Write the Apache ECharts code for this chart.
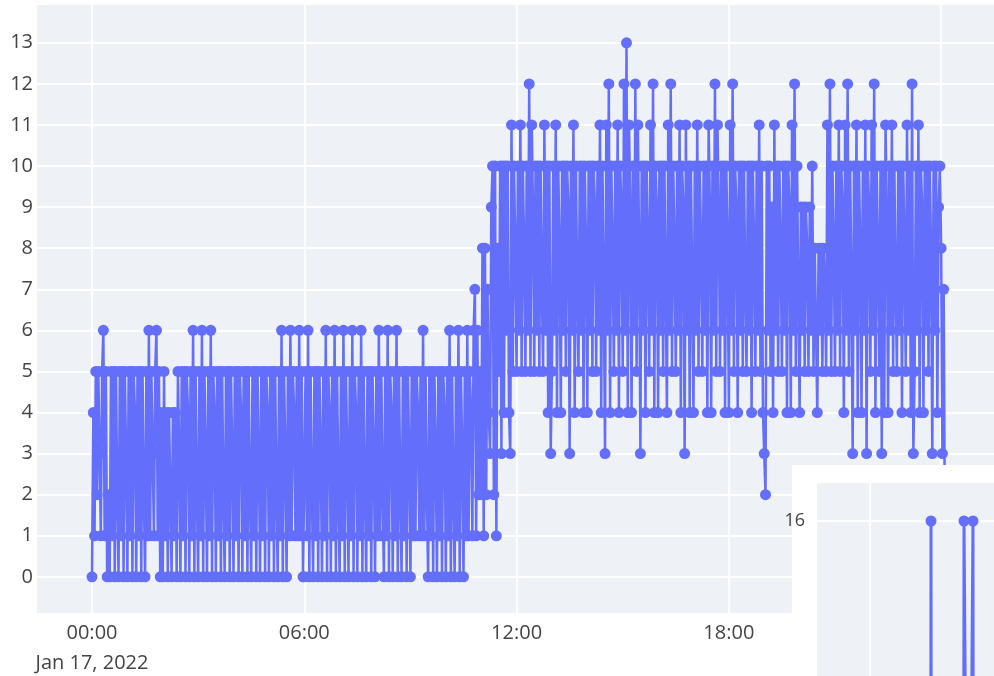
<!DOCTYPE html>
<html>
<head>
<meta charset="utf-8">
<title>Counts, Jan 17 2022</title>
<script src="https://cdn.jsdelivr.net/npm/echarts@6/dist/echarts.min.js"></script>
<style>
  html, body { margin: 0; padding: 0; background: #fff; }
  #chart { width: 994px; height: 676px; }
</style>
</head>
<body>
<div id="chart"></div>
<script>
  // seven samples per quarter hour from 00:00, one line = one quarter hour
  const STEP_MIN = 15 / 7;

  const h00 = [
    0, 4, 1, 5, 2, 5, 3,
    1, 5, 6, 1, 5, 0, 2,
    0, 5, 1, 5, 0, 5, 2,
    0, 5, 1, 5, 0, 5, 3,
    0, 5, 1, 5, 0, 5, 4,
    0, 5, 1, 5, 0, 5, 2,
    0, 5, 1, 6, 1, 5, 3,
    1, 5, 6, 1, 5, 0, 4,
    0, 5, 1, 4, 0, 4, 2,
    0, 4, 1, 4, 0, 5, 3,
    0, 5, 1, 5, 0, 5, 4,
    0, 5, 1, 6, 0, 5, 2
  ];
  const h03 = [
    0, 5, 1, 6, 0, 5, 3,
    0, 5, 1, 6, 0, 5, 4,
    0, 5, 1, 5, 0, 5, 2,
    0, 5, 1, 5, 0, 5, 3,
    0, 5, 1, 5, 0, 5, 4,
    0, 5, 1, 5, 0, 5, 2,
    0, 5, 1, 5, 0, 5, 3,
    0, 5, 1, 5, 0, 5, 4,
    0, 5, 1, 5, 0, 5, 2,
    0, 5, 1, 6, 0, 5, 3,
    0, 5, 1, 6, 1, 5, 4,
    1, 5, 1, 6, 1, 5, 0
  ];
  const h06 = [
    0, 5, 1, 6, 0, 5, 2,
    0, 5, 1, 5, 0, 5, 3,
    0, 5, 1, 6, 0, 5, 4,
    0, 5, 1, 6, 0, 5, 2,
    0, 5, 1, 6, 0, 5, 3,
    0, 5, 1, 6, 0, 5, 4,
    0, 5, 1, 6, 0, 5, 2,
    0, 5, 1, 5, 0, 5, 3,
    0, 5, 1, 6, 1, 5, 2,
    0, 5, 1, 6, 0, 5, 4,
    0, 5, 1, 6, 0, 5, 2,
    0, 5, 1, 5, 0, 5, 3
  ];
  const h09 = [
    0, 5, 1, 5, 1, 5, 4,
    1, 5, 1, 6, 1, 5, 2,
    0, 5, 1, 5, 0, 5, 3,
    0, 5, 1, 5, 0, 5, 4,
    0, 5, 1, 6, 0, 5, 2,
    0, 5, 1, 6, 0, 5, 3,
    0, 5, 1, 6, 1, 5, 4,
    1, 6, 7, 1, 6, 2, 5,
    2, 8, 1, 8, 2, 7, 4,
    3, 9, 10, 2, 10, 1, 8,
    5, 10, 3, 10, 4, 10, 6,
    10, 4, 3, 11, 5, 10, 8
  ];
  const h12 = [
    5, 10, 6, 11, 5, 10, 8,
    5, 10, 6, 12, 5, 11, 9,
    5, 10, 6, 10, 5, 10, 7,
    5, 11, 6, 10, 4, 10, 3,
    5, 10, 6, 11, 4, 10, 8,
    4, 10, 6, 10, 5, 10, 9,
    3, 10, 6, 11, 4, 10, 7,
    5, 10, 6, 10, 4, 10, 8,
    4, 10, 6, 10, 5, 10, 9,
    5, 10, 6, 11, 4, 10, 7,
    3, 11, 6, 12, 4, 10, 8,
    5, 10, 6, 11, 4, 10, 9
  ];
  const h15 = [
    5, 12, 6, 13, 4, 11, 9,
    4, 10, 6, 12, 5, 11, 8,
    3, 10, 6, 10, 4, 10, 8,
    5, 11, 6, 12, 4, 10, 9,
    4, 10, 6, 10, 5, 10, 7,
    4, 11, 6, 12, 5, 10, 8,
    5, 10, 6, 11, 4, 10, 9,
    3, 11, 6, 10, 4, 10, 7,
    4, 10, 6, 11, 5, 10, 8,
    5, 10, 6, 10, 4, 11, 9,
    4, 10, 6, 12, 5, 11, 9,
    5, 10, 6, 10, 4, 10, 8
  ];
  const h18 = [
    4, 11, 6, 12, 5, 10, 9,
    4, 10, 6, 10, 5, 10, 7,
    5, 10, 6, 10, 4, 10, 8,
    5, 10, 6, 11, 5, 10, 4,
    3, 2, 10, 6, 10, 5, 9,
    4, 11, 6, 10, 5, 10, 8,
    5, 10, 6, 10, 4, 10, 9,
    4, 11, 6, 12, 5, 10, 7,
    4, 9, 6, 9, 5, 9, 8,
    5, 9, 6, 10, 5, 8, 6,
    4, 8, 6, 8, 5, 8, 7,
    5, 11, 6, 12, 5, 10, 8
  ];
  const h21 = [
    5, 10, 6, 11, 5, 10, 9,
    4, 11, 6, 12, 5, 10, 7,
    3, 10, 6, 11, 4, 10, 8,
    4, 10, 6, 11, 3, 10, 9,
    5, 11, 6, 12, 4, 10, 8,
    5, 10, 3, 10, 4, 11, 9,
    4, 10, 6, 11, 5, 10, 7,
    5, 10, 6, 10, 4, 10, 8,
    5, 11, 6, 10, 4, 12, 3,
    5, 10, 6, 11, 4, 10, 9,
    4, 10, 6, 10, 5, 10, 8,
    3, 10, 6, 10, 4, 9, 10,
    8, 3, 7, 1
  ];

  const xTicks = [0, 6, 12, 18, 24];
  const yTicks = [0, 1, 2, 3, 4, 5, 6, 7, 8, 9, 10, 11, 12, 13];
  const dateLabel = 'Jan 17, 2022';

  // the second figure that overlaps the lower right corner
  const insetX = [0.605, 0.61, 0.615, 0.935, 0.94, 0.985, 1.03, 1.035];
  const insetY = [0, 16, 0, 0, 16, 0, 16, 0];
  const insetYTicks = [16];
  const insetXTicks = [0];

  const blue = '#636EFA';
  const plotBg = '#EEF1F6';
  const textColor = '#444';
  const font = 'Open Sans';

  const counts = [].concat(h00, h03, h06, h09, h12, h15, h18, h21);
  const points = counts.map((v, i) => [i * STEP_MIN / 60, v]);
  const insetPoints = insetX.map((x, i) => [x, insetY[i]]);

  function hourLabel(h) {
    const hh = String(h % 24).padStart(2, '0') + ':00';
    return h === 0 ? hh + '\n' + dateLabel : hh;
  }

  const splitWhite = { show: true, lineStyle: { color: '#fff', width: 2 } };

  const chart = echarts.init(document.getElementById('chart'), null, { renderer: 'canvas' });
  chart.setOption({
    animation: false,
    backgroundColor: '#fff',
    textStyle: { fontFamily: font },
    graphic: [{
      type: 'rect',
      zlevel: 1,
      z: 0,
      silent: true,
      shape: { x: 792, y: 465, width: 202, height: 211 },
      style: { fill: '#fff' }
    }],
    grid: [
      { left: 37, top: 5, width: 957, height: 608, outerBoundsMode: 'none', containLabel: false,
        show: true, backgroundColor: plotBg, borderWidth: 0 },
      { left: 817, top: 483, width: 177, height: 193, outerBoundsMode: 'none', containLabel: false,
        show: true, backgroundColor: plotBg, borderWidth: 0, zlevel: 1, z: 1 }
    ],
    xAxis: [{
      type: 'value',
      gridIndex: 0,
      min: -1.5545,
      max: 25.494,
      axisLine: { show: false },
      axisTick: { show: false, customValues: xTicks },
      axisLabel: {
        customValues: xTicks,
        formatter: hourLabel,
        color: textColor,
        fontSize: 20,
        fontFamily: font,
        lineHeight: 30,
        margin: 5
      },
      splitLine: splitWhite
    }, {
      type: 'value',
      gridIndex: 1,
      min: -0.53,
      max: 1.24,
      zlevel: 1,
      z: 2,
      axisLine: { show: false },
      axisTick: { show: false, customValues: insetXTicks },
      axisLabel: { show: false },
      splitLine: splitWhite
    }],
    yAxis: [{
      type: 'value',
      gridIndex: 0,
      min: -0.88,
      max: 13.92,
      axisLine: { show: false },
      axisTick: { show: false, customValues: yTicks },
      axisLabel: { customValues: yTicks, color: textColor, fontSize: 20, fontFamily: font, margin: 4 },
      splitLine: splitWhite
    }, {
      type: 'value',
      gridIndex: 1,
      min: 11.92,
      max: 17,
      zlevel: 1,
      z: 2,
      axisLine: { show: false },
      axisTick: { show: false, customValues: insetYTicks },
      axisLabel: { customValues: insetYTicks, color: textColor, fontSize: 18, fontFamily: font, margin: 12 },
      splitLine: splitWhite
    }],
    series: [{
      type: 'line',
      xAxisIndex: 0,
      yAxisIndex: 0,
      data: points,
      symbol: 'circle',
      symbolSize: 11,
      showSymbol: true,
      showAllSymbol: true,
      silent: true,
      lineStyle: { color: blue, width: 2.5 },
      itemStyle: { color: blue }
    }, {
      type: 'line',
      xAxisIndex: 1,
      yAxisIndex: 1,
      zlevel: 1,
      z: 3,
      data: insetPoints,
      symbol: 'circle',
      symbolSize: 11,
      showAllSymbol: true,
      silent: true,
      lineStyle: { color: blue, width: 3 },
      itemStyle: { color: blue }
    }]
  });
</script>
</body>
</html>
